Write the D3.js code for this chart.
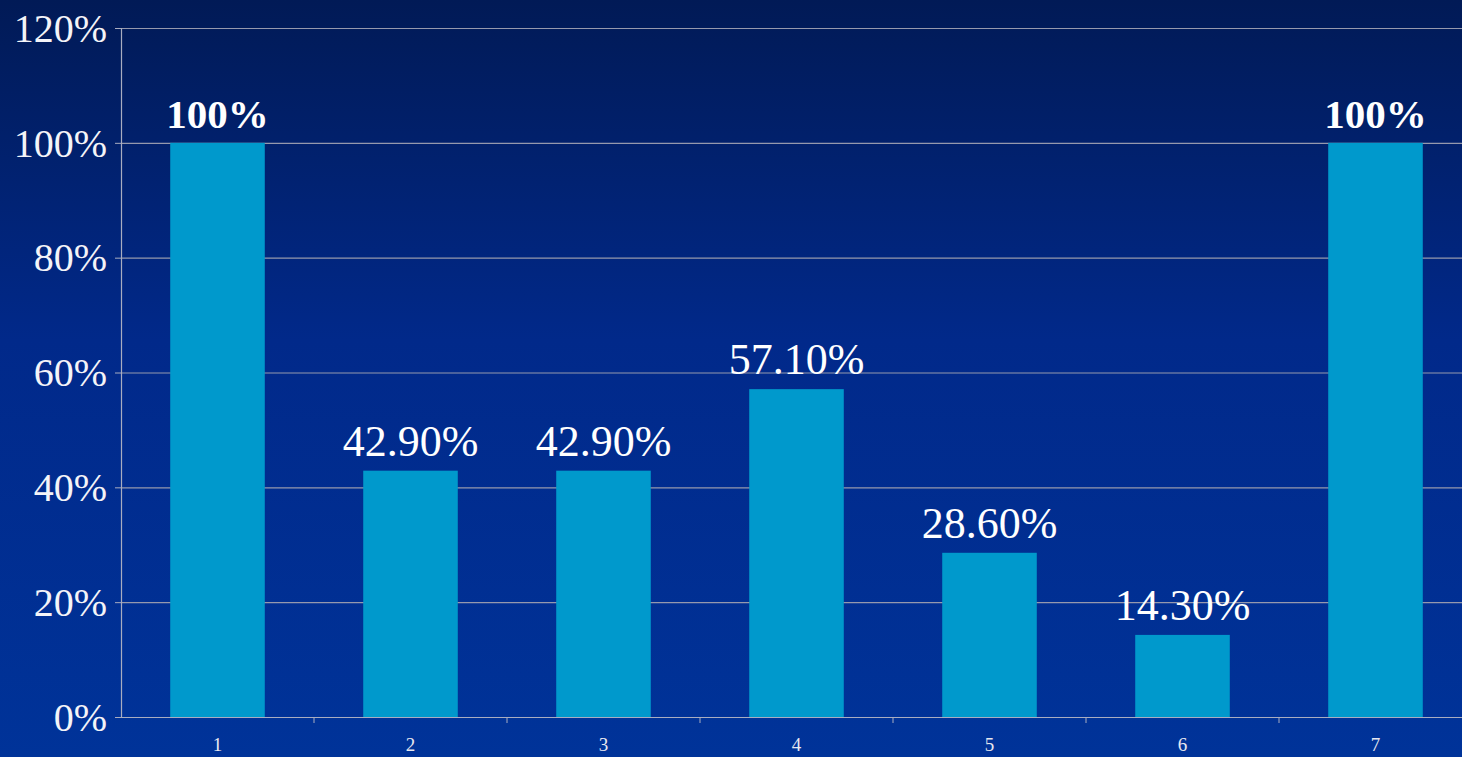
<!DOCTYPE html>
<html>
<head>
<meta charset="utf-8">
<script src="https://cdn.jsdelivr.net/npm/d3@7"></script>
<style>
  html, body { margin: 0; padding: 0; background: #002a88; }
  svg { display: block; }
</style>
</head>
<body>
<svg width="1462" height="757"></svg>
<script>
// chart data
var categories = ["1", "2", "3", "4", "5", "6", "7"];
var values = [100, 42.9, 42.9, 57.1, 28.6, 14.3, 100];
var valueLabels = ["100%", "42.90%", "42.90%", "57.10%", "28.60%", "14.30%", "100%"];
var yTicks = [0, 20, 40, 60, 80, 100, 120];

var svg = d3.select("svg"),
    width = +svg.attr("width"),
    height = +svg.attr("height"),
    margin = {top: 28, left: 121, bottom: 40},
    plotBottom = height - margin.bottom,
    serif = "'Liberation Serif', 'Times New Roman', serif";

// background gradient
var defs = svg.append("defs");
var grad = defs.append("linearGradient")
    .attr("id", "bg")
    .attr("x1", 0).attr("y1", 0).attr("x2", 0).attr("y2", 1);
grad.append("stop").attr("offset", "0%").attr("stop-color", "#011a56");
grad.append("stop").attr("offset", "45%").attr("stop-color", "#01298a");
grad.append("stop").attr("offset", "100%").attr("stop-color", "#003399");

svg.append("rect")
    .attr("width", width)
    .attr("height", height)
    .attr("fill", "url(#bg)");

var y = d3.scaleLinear()
    .domain([0, 120])
    .range([plotBottom, margin.top]);

var x = d3.scaleBand()
    .domain(categories)
    .range([margin.left, margin.left + 193 * categories.length])
    .paddingInner(0.51)
    .paddingOuter(0.255);

// gridlines
svg.append("g")
    .selectAll("line")
    .data(yTicks.slice(1))
    .enter().append("line")
    .attr("x1", margin.left)
    .attr("x2", width)
    .attr("y1", function(d) { return y(d) + 0.5; })
    .attr("y2", function(d) { return y(d) + 0.5; })
    .attr("stroke", "#9699ad")
    .attr("stroke-width", 1.2);

// bars
svg.append("g")
    .selectAll("rect")
    .data(values)
    .enter().append("rect")
    .attr("x", function(d, i) { return x(categories[i]); })
    .attr("y", function(d) { return y(d); })
    .attr("width", x.bandwidth())
    .attr("height", function(d) { return y(0) - y(d); })
    .attr("fill", "#0099cc");

// y axis
var yAxis = svg.append("g")
    .attr("transform", "translate(" + margin.left + ",0)")
    .call(d3.axisLeft(y)
        .tickValues(yTicks)
        .tickSize(6)
        .tickPadding(8)
        .tickFormat(function(d) { return d + "%"; }));

yAxis.select(".domain").attr("stroke", "#a9adc0").attr("stroke-width", 1.2);
yAxis.selectAll(".tick line").attr("stroke", "#a9adc0");
yAxis.selectAll("text")
    .attr("fill", "#f4f4f8")
    .attr("dy", "0.33em")
    .style("font-family", serif)
    .style("font-size", "40px");

// x axis line and category ticks
var xAxis = svg.append("g")
    .attr("transform", "translate(0," + plotBottom + ")");

xAxis.append("line")
    .attr("x1", margin.left - 6)
    .attr("x2", width)
    .attr("y1", 0.5).attr("y2", 0.5)
    .attr("stroke", "#a9adc0")
    .attr("stroke-width", 1.2);

xAxis.selectAll(".sep")
    .data(categories.slice(1))
    .enter().append("line")
    .attr("class", "sep")
    .attr("x1", function(d) { return x(d) - x.step() * x.paddingInner() / 2; })
    .attr("x2", function(d) { return x(d) - x.step() * x.paddingInner() / 2; })
    .attr("y1", 0).attr("y2", 6)
    .attr("stroke", "#a9adc0");

xAxis.selectAll(".cat")
    .data(categories)
    .enter().append("text")
    .attr("class", "cat")
    .attr("x", function(d) { return x(d) + x.bandwidth() / 2; })
    .attr("y", 34)
    .attr("text-anchor", "middle")
    .attr("fill", "#e8e8f0")
    .style("font-family", serif)
    .style("font-size", "19px")
    .text(function(d) { return d; });

// value labels
svg.append("g")
    .selectAll("text")
    .data(values)
    .enter().append("text")
    .attr("x", function(d, i) { return x(categories[i]) + x.bandwidth() / 2; })
    .attr("y", function(d) { return y(d) - 15; })
    .attr("text-anchor", "middle")
    .attr("fill", "#ffffff")
    .style("font-family", serif)
    .style("font-size", function(d) { return d === 100 ? "41px" : "44px"; })
    .style("font-weight", function(d) { return d === 100 ? "bold" : "normal"; })
    .text(function(d, i) { return valueLabels[i]; });
</script>
</body>
</html>
